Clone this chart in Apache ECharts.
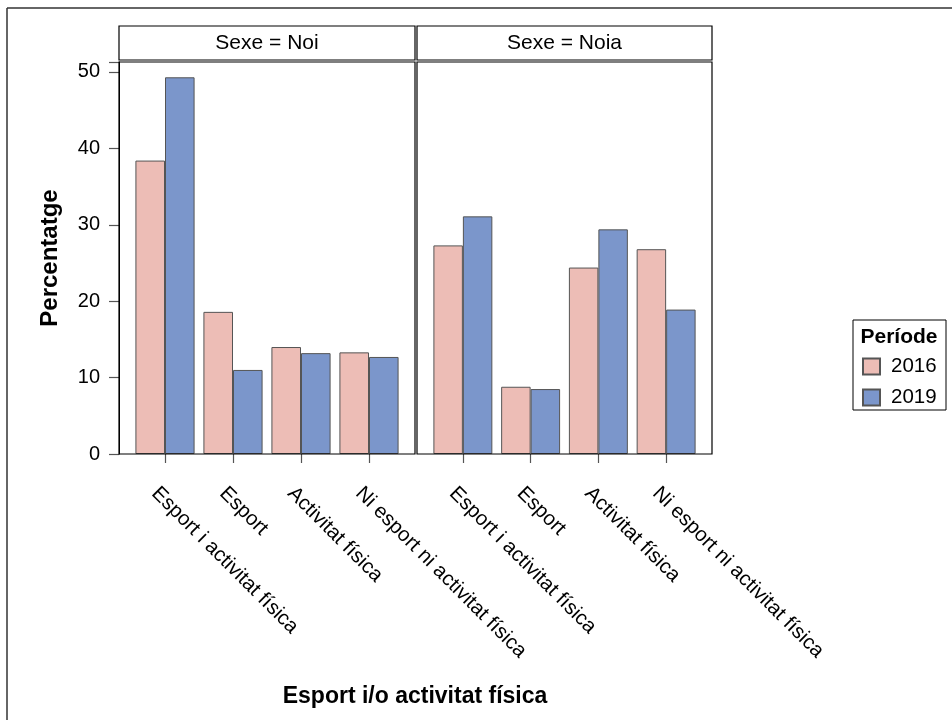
<!DOCTYPE html>
<html><head><meta charset="utf-8">
<script src="https://cdn.jsdelivr.net/npm/echarts@6/dist/echarts.min.js"></script>
<style>html,body{margin:0;padding:0;background:#fff}#c{width:952px;height:720px}</style>
</head><body><div id="c"></div>
<script>
const categories = ['Esport i activitat física', 'Esport', 'Activitat física', 'Ni esport ni activitat física'];
const panels = ['Sexe = Noi', 'Sexe = Noia'];
const years = ['2016', '2019'];
const noi2016 = [38.4, 18.6, 14.0, 13.3];
const noi2019 = [49.3, 11.0, 13.2, 12.7];
const noia2016 = [27.3, 8.8, 24.4, 26.8];
const noia2019 = [31.1, 8.5, 29.4, 18.9];
const yTicks = [0, 10, 20, 30, 40, 50];

const FONT = '"Liberation Sans", Arial, sans-serif';
const C16 = '#EDBDB6', C19 = '#7B96CB';
const chart = echarts.init(document.getElementById('c'), null, {renderer: 'canvas'});

const frames = [
  {x: 119, y: 62, width: 296, height: 392},
  {x: 417, y: 62, width: 295, height: 392}
];
const PAD = 12;
const grids = frames.map(f => ({left: f.x + PAD, top: f.y, width: f.width - 2 * PAD, height: f.height}));
function xAxis(i) {
  return {
    type: 'category', gridIndex: i, data: categories,
    axisLine: {show: false},
    axisTick: {show: true, alignWithLabel: true, length: 9, lineStyle: {color: '#555', width: 1.2}},
    axisLabel: {rotate: -45, fontSize: 20.5, color: '#000', fontFamily: FONT, margin: 26, interval: 0,
      verticalAlign: 'top', padding: [4, 0, 0, 0]}
  };
}
function yAxis(i) {
  return {
    type: 'value', gridIndex: i, min: 0, max: 51.3, interval: 10, offset: PAD,
    splitLine: {show: false},
    axisLine: {show: i === 0, lineStyle: {color: '#000'}},
    axisTick: {show: i === 0, length: 10, lineStyle: {color: '#555', width: 1.2}},
    axisLabel: {show: i === 0, fontSize: 20, color: '#000', fontFamily: FONT, margin: 19,
      formatter: v => yTicks.includes(v) ? String(v) : ''},
    name: i === 0 ? 'Percentatge' : '', nameLocation: 'middle', nameGap: 57,
    nameTextStyle: {fontSize: 24, fontWeight: 'bold', color: '#000', fontFamily: FONT}
  };
}
function bar(name, data, color, idx) {
  return {
    type: 'bar', name: name, data: data, xAxisIndex: idx, yAxisIndex: idx,
    barGap: '0%', barCategoryGap: '13%',
    itemStyle: {color: color, borderColor: '#555', borderWidth: 1}
  };
}
chart.setOption({
  animation: false,
  grid: grids,
  xAxis: [xAxis(0), xAxis(1)],
  yAxis: [yAxis(0), yAxis(1)],
  legend: {
    data: years, orient: 'vertical', left: 862, top: 356, padding: 0,
    itemWidth: 17, itemHeight: 16, itemGap: 10, icon: 'rect',
    textStyle: {fontSize: 20.5, color: '#000', fontFamily: FONT, padding: [0, 0, 0, 6]}
  },
  series: [
    bar(years[0], noi2016, C16, 0), bar(years[1], noi2019, C19, 0),
    bar(years[0], noia2016, C16, 1), bar(years[1], noia2019, C19, 1)
  ],
  graphic: [
    {type: 'line', shape: {x1: 7, y1: 8, x2: 952, y2: 8}, style: {stroke: '#333', lineWidth: 1.5}},
    {type: 'line', shape: {x1: 7, y1: 8, x2: 7, y2: 720}, style: {stroke: '#333', lineWidth: 1.5}},
    {type: 'rect', shape: frames[0], style: {fill: 'none', stroke: '#000', lineWidth: 1.2}, z: 5},
    {type: 'rect', shape: frames[1], style: {fill: 'none', stroke: '#000', lineWidth: 1.2}, z: 5},
    {type: 'rect', shape: {x: 119, y: 26, width: 296, height: 34}, style: {fill: '#fff', stroke: '#000', lineWidth: 1.2}},
    {type: 'rect', shape: {x: 417, y: 26, width: 295, height: 34}, style: {fill: '#fff', stroke: '#000', lineWidth: 1.2}},
    {type: 'text', x: 267, y: 43, style: {text: panels[0], font: '21px ' + FONT, fill: '#000', align: 'center', verticalAlign: 'middle'}},
    {type: 'text', x: 564.5, y: 43, style: {text: panels[1], font: '21px ' + FONT, fill: '#000', align: 'center', verticalAlign: 'middle'}},
    {type: 'text', x: 415, y: 697, style: {text: 'Esport i/o activitat física', font: 'bold 23px ' + FONT, fill: '#000', align: 'center', verticalAlign: 'middle'}},
    {type: 'rect', shape: {x: 853, y: 320, width: 93, height: 90}, style: {fill: 'none', stroke: '#000', lineWidth: 1}, z: 10},
    {type: 'text', x: 899, y: 337, style: {text: 'Període', font: 'bold 21px ' + FONT, fill: '#000', align: 'center', verticalAlign: 'middle'}}
  ]
});
</script></body></html>
